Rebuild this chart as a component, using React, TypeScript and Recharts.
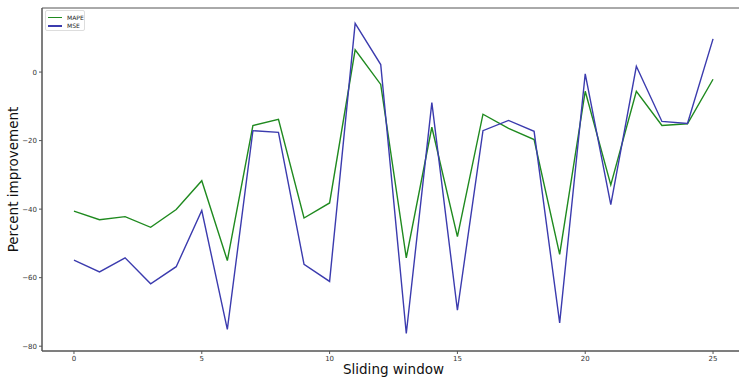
import React from "react";
import {
  LineChart,
  Line,
  XAxis,
  YAxis,
  ReferenceArea,
} from "recharts";

const windows = Array.from({ length: 26 }, (_, i) => i);

const mape = [
  -40.6, -43.1, -42.2, -45.3, -40.1, -31.7, -55.0, -15.6, -13.8, -42.6,
  -38.2, 6.5, -3.6, -54.2, -16.1, -48.0, -12.3, -16.4, -19.7, -53.2,
  -5.6, -32.9, -5.6, -15.6, -15.1, -2.1,
];

const mse = [
  -54.9, -58.3, -54.2, -61.8, -56.8, -40.4, -75.1, -17.1, -17.6, -56.1,
  -61.1, 14.2, 2.2, -76.3, -8.9, -69.5, -17.1, -14.1, -17.3, -73.2,
  -0.5, -38.7, 1.7, -14.4, -15.0, 9.7,
];

const xTicks = [0, 5, 10, 15, 20, 25];
const yTicks = [-80, -60, -40, -20, 0];

const series = [
  { key: "mape", name: "MAPE", color: "#1f8a1f" },
  { key: "mse", name: "MSE", color: "#3b3bae" },
];

const X_DOMAIN: [number, number] = [-1.25, 26.25];
const Y_DOMAIN: [number, number] = [-81.4, 18.7];

const data = windows.map((w, i) => ({ w, mape: mape[i], mse: mse[i] }));

const fmt = (v: number) => String(v).replace("-", "\u2212");
const font = "'DejaVu Sans', sans-serif";
const tickStyle = { fontSize: 7, fill: "#333", fontFamily: font };

export default function App() {
  return (
    <div
      style={{
        position: "absolute",
        left: 0,
        top: 0,
        width: 739,
        height: 377,
        overflow: "hidden",
        background: "#fff",
      }}
    >
      <LineChart
        width={746}
        height={377}
        data={data}
        margin={{ top: 8, right: 1, bottom: 0, left: 0 }}
      >
        <XAxis
          dataKey="w"
          type="number"
          domain={X_DOMAIN}
          ticks={xTicks}
          allowDataOverflow
          height={26}
          tick={tickStyle}
          tickSize={3}
          tickLine={{ stroke: "#555" }}
          axisLine={{ stroke: "#555" }}
          label={{
            value: "Sliding window",
            position: "insideBottom",
            offset: 3,
            style: { fontSize: 13.5, fill: "#111", fontFamily: font },
          }}
        />
        <YAxis
          type="number"
          domain={Y_DOMAIN}
          ticks={yTicks}
          allowDataOverflow
          width={42}
          tick={tickStyle}
          tickSize={3}
          tickFormatter={fmt}
          tickLine={{ stroke: "#555" }}
          axisLine={{ stroke: "#555" }}
          label={{
            value: "Percent improvement",
            angle: -90,
            position: "insideLeft",
            offset: 13,
            style: {
              fontSize: 13.5,
              fill: "#111",
              fontFamily: font,
              textAnchor: "middle",
            },
          }}
        />
        <ReferenceArea
          x1={X_DOMAIN[0]}
          x2={X_DOMAIN[1]}
          y1={Y_DOMAIN[0]}
          y2={Y_DOMAIN[1]}
          fill="none"
          stroke="#555"
          strokeWidth={1}
        />
        {series.map((s) => (
          <Line
            key={s.key}
            type="linear"
            dataKey={s.key}
            name={s.name}
            stroke={s.color}
            strokeWidth={1.4}
            dot={false}
            activeDot={false}
            isAnimationActive={false}
          />
        ))}
      </LineChart>
      <div
        style={{
          position: "absolute",
          left: 45,
          top: 10,
          width: 40,
          height: 21,
          border: "1px solid #ddd",
          borderRadius: 2,
          background: "#fff",
          boxSizing: "border-box",
          padding: "2px 0 0 2px",
          fontFamily: font,
          fontSize: 6,
          color: "#222",
        }}
      >
        {series.map((s) => (
          <div
            key={s.key}
            style={{ display: "flex", alignItems: "center", height: 8.5 }}
          >
            <span
              style={{
                display: "inline-block",
                width: 14,
                height: 1.5,
                background: s.color,
                marginRight: 5,
              }}
            />
            {s.name}
          </div>
        ))}
      </div>
    </div>
  );
}
